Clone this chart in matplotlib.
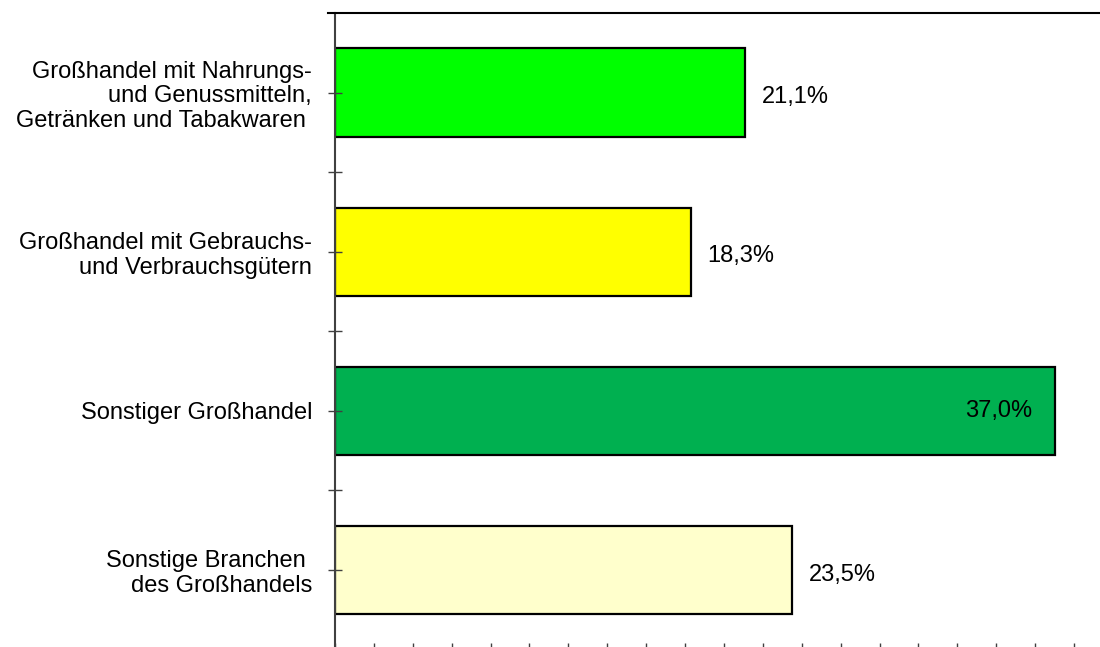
import matplotlib
matplotlib.use("Agg")
import matplotlib.pyplot as plt
from matplotlib.lines import Line2D

plt.rcParams["font.family"] = ["Liberation Sans", "DejaVu Sans"]

# data, top to bottom
categories = [
    "Großhandel mit Nahrungs-\nund Genussmitteln,\nGetränken und Tabakwaren ",
    "Großhandel mit Gebrauchs-\nund Verbrauchsgütern",
    "Sonstiger Großhandel",
    "Sonstige Branchen \ndes Großhandels",
]
shares = [21.1, 18.3, 37.0, 23.5]
share_labels = ["21,1%", "18,3%", "37,0%", "23,5%"]
bar_colors = ["#00FF00", "#FFFF00", "#00B050", "#FFFFCC"]

FS = 17
W, H = 1100, 647
fig = plt.figure(figsize=(W / 100, H / 100), dpi=100)
ax = fig.add_axes([335 / W, -2.5 / H, 739 / W, (649.5 - 13) / H])

ypos = list(range(len(categories)))
ax.barh(ypos, shares, height=0.555, color=bar_colors, edgecolor="black", linewidth=1.6)

for y, v, lab in zip(ypos, shares, share_labels):
    if v > 30:
        ax.text(v - 1.15, y, lab, ha="right", va="center", fontsize=FS)
    else:
        ax.text(v + 0.85, y + 0.03, lab, ha="left", va="center", fontsize=FS)

ax.set_xlim(0, 38)
ax.set_ylim(3.5, -0.5)
ax.set_xticks(range(0, 39, 2))
ax.set_xticklabels([])
ax.tick_params(axis="x", direction="in", length=5, width=1, color="#404040")

ax.set_yticks(ypos)
ax.set_yticklabels(categories, fontsize=FS, ha="right")
ax.set_yticks([y + 0.5 for y in ypos[:-1]], minor=True)
ax.tick_params(axis="y", which="both", direction="inout", length=10, width=1,
               color="#404040", pad=11.5)
for t in ax.get_yticklabels():
    t.set_multialignment("right")
    t.set_linespacing(1.15)

for s in ["right", "bottom", "top"]:
    ax.spines[s].set_visible(False)
ax.spines["left"].set_color("#404040")
ax.spines["left"].set_linewidth(1.5)

# top border line running to the right edge
ytop = 1 - 13 / H
fig.add_artist(Line2D([328 / W, 1.0], [ytop, ytop], color="black", linewidth=1.5))

fig.savefig("out.png", dpi=100)
